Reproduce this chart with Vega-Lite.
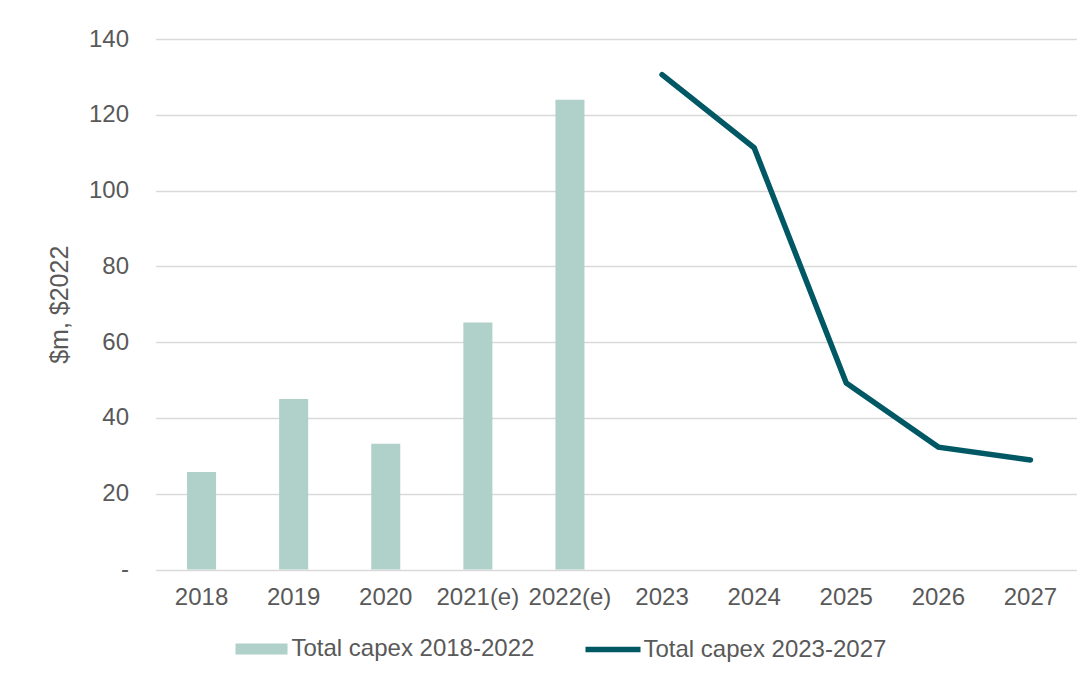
{
  "$schema": "https://vega.github.io/schema/vega-lite/v6.json",
  "width": 921,
  "height": 530.5,
  "autosize": {"type": "none"},
  "padding": {"left": 155.5, "top": 39, "right": 14, "bottom": 109},
  "background": "white",
  "config": {
    "view": {"stroke": null},
    "font": "Liberation Sans"
  },
  "data": {
    "values": [
      {"year": "2018", "series": "Total capex 2018-2022", "value": 25.7},
      {"year": "2019", "series": "Total capex 2018-2022", "value": 45.0},
      {"year": "2020", "series": "Total capex 2018-2022", "value": 33.2},
      {"year": "2021(e)", "series": "Total capex 2018-2022", "value": 65.2},
      {"year": "2022(e)", "series": "Total capex 2018-2022", "value": 124.0},
      {"year": "2023", "series": "Total capex 2023-2027", "value": 130.6},
      {"year": "2024", "series": "Total capex 2023-2027", "value": 111.3},
      {"year": "2025", "series": "Total capex 2023-2027", "value": 49.2},
      {"year": "2026", "series": "Total capex 2023-2027", "value": 32.3},
      {"year": "2027", "series": "Total capex 2023-2027", "value": 28.9}
    ]
  },
  "encoding": {
    "x": {
      "field": "year",
      "type": "ordinal",
      "scale": {
        "domain": ["2018", "2019", "2020", "2021(e)", "2022(e)", "2023", "2024", "2025", "2026", "2027"],
        "paddingInner": 0.685,
        "paddingOuter": 0.3425
      },
      "axis": {
        "title": null,
        "labelAngle": 0,
        "domain": false,
        "ticks": false,
        "labelPadding": 16,
        "labelFontSize": 24,
        "labelColor": "#595959",
        "labelFont": "Liberation Sans"
      }
    },
    "y": {
      "field": "value",
      "type": "quantitative",
      "scale": {"domain": [0, 140], "nice": false},
      "axis": {
        "values": [0, 20, 40, 60, 80, 100, 120, 140],
        "labelExpr": "datum.value == 0 ? '-\u2007' : datum.label",
        "grid": true,
        "gridColor": "#d9d9d9",
        "gridWidth": 1.5,
        "domain": false,
        "ticks": false,
        "labelPadding": 27,
        "labelFontSize": 24,
        "labelColor": "#595959",
        "labelFont": "Liberation Sans",
        "title": "$m, $2022",
        "titleFontSize": 25,
        "titleFontWeight": "normal",
        "titleColor": "#595959",
        "titleFont": "Liberation Sans",
        "titlePadding": 16
      }
    }
  },
  "layer": [
    {
      "transform": [{"filter": "datum.series == 'Total capex 2018-2022'"}],
      "mark": {"type": "bar"},
      "encoding": {
        "fill": {
          "field": "series",
          "type": "nominal",
          "scale": {"range": ["#b0d0ca"]},
          "legend": {
            "title": null,
            "orient": "none",
            "legendX": 80,
            "legendY": 584,
            "padding": 0,
            "symbolType": "M-1,-0.21H1V0.21H-1Z",
            "symbolSize": 2704,
            "symbolStrokeWidth": 0,
            "labelOffset": 4,
            "labelLimit": 500,
            "labelFontSize": 24,
            "labelColor": "#595959",
            "labelFont": "Liberation Sans"
          }
        }
      }
    },
    {
      "transform": [{"filter": "datum.series == 'Total capex 2023-2027'"}],
      "mark": {"type": "line", "strokeWidth": 5.5, "strokeCap": "round"},
      "encoding": {
        "stroke": {
          "field": "series",
          "type": "nominal",
          "scale": {"range": ["#005865"]},
          "legend": {
            "title": null,
            "orient": "none",
            "legendX": 427,
            "legendY": 580,
            "padding": 0,
            "symbolType": "stroke",
            "symbolSize": 3025,
            "symbolStrokeWidth": 5.5,
            "labelOffset": 0,
            "labelLimit": 500,
            "labelFontSize": 24,
            "labelColor": "#595959",
            "labelFont": "Liberation Sans"
          }
        }
      }
    }
  ]
}
